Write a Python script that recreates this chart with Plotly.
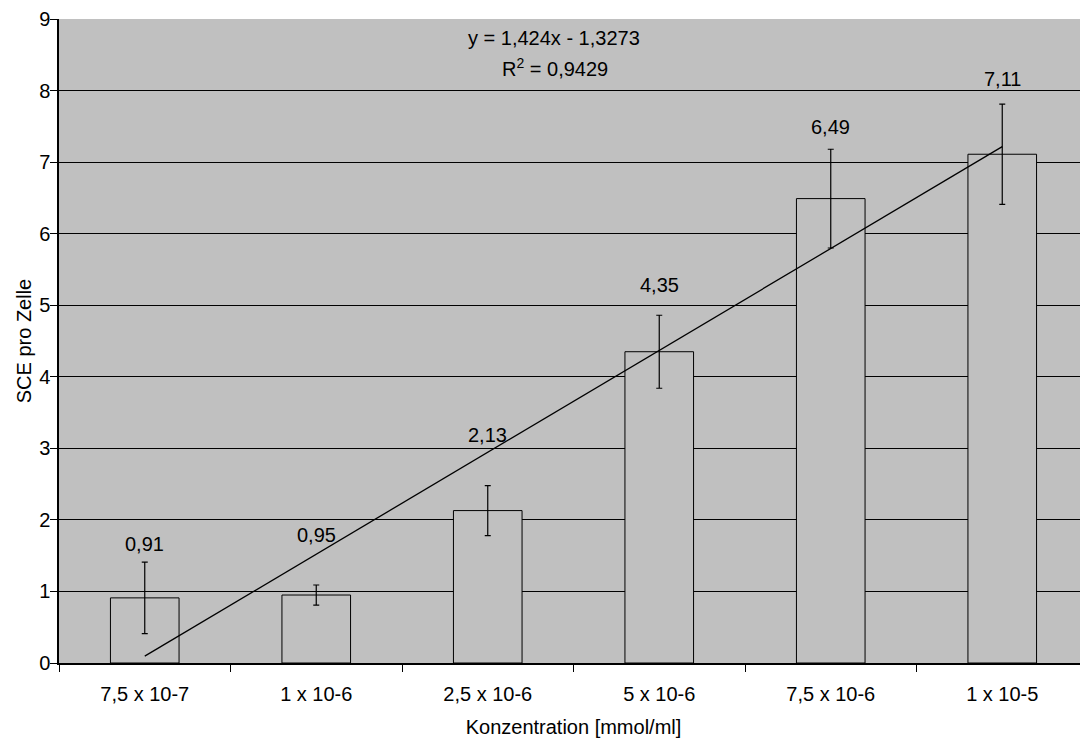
import plotly.graph_objects as go

categories = ["7,5 x 10-7", "1 x 10-6", "2,5 x 10-6", "5 x 10-6", "7,5 x 10-6", "1 x 10-5"]
values = [0.91, 0.95, 2.13, 4.35, 6.49, 7.11]
errors = [0.50, 0.14, 0.35, 0.51, 0.69, 0.70]
value_labels = ["0,91", "0,95", "2,13", "4,35", "6,49", "7,11"]
label_y = [1.67, 1.79, 3.19, 5.28, 7.49, 8.16]
y_ticks = [0, 1, 2, 3, 4, 5, 6, 7, 8, 9]
slope = 1.424
intercept = -1.3273
r_squared = "0,9429"

FONT = "Liberation Sans, Arial, sans-serif"
GRAY = "#C0C0C0"

trend_y = [slope * (i + 1) + intercept for i in range(len(categories))]

fig = go.Figure()
fig.add_trace(go.Bar(
    x=categories, y=values, width=0.4,
    marker=dict(color=GRAY, line=dict(color="black", width=1)),
    error_y=dict(type="data", array=errors, visible=True, color="black", thickness=1.2, width=3),
    showlegend=False, hoverinfo="skip",
))
fig.add_trace(go.Scatter(
    x=categories, y=trend_y, mode="lines",
    line=dict(color="black", width=1.3), showlegend=False, hoverinfo="skip",
))

for c, t, ly in zip(categories, value_labels, label_y):
    fig.add_annotation(x=c, y=ly, text=t, showarrow=False,
                       font=dict(family=FONT, size=20, color="black"),
                       xanchor="center", yanchor="middle")

fig.add_annotation(xref="paper", yref="paper", x=(553.7 - 59) / 1029, y=1 - (38.5 - 19) / 644,
                   text="y = 1,424x - 1,3273", showarrow=False,
                   font=dict(family=FONT, size=20, color="black"), xanchor="center", yanchor="middle")
fig.add_annotation(xref="paper", yref="paper", x=(555 - 59) / 1029, y=1 - (67 - 19) / 644,
                   text="R<sup>2</sup> = " + r_squared, showarrow=False,
                   font=dict(family=FONT, size=20, color="black"), xanchor="center", yanchor="middle")

# the page body adds an 8px offset; the figure is sized so the plot lands where the reference has it
fig.update_layout(
    width=1080, height=730,
    margin=dict(l=51, r=0, t=11, b=75),
    paper_bgcolor="white", plot_bgcolor=GRAY,
    font=dict(family=FONT, size=20, color="black"),
    xaxis=dict(
        type="category", tickson="boundaries", ticks="outside", ticklen=7, tickcolor="black",
        showline=True, linecolor="black", linewidth=1.5, showgrid=False, automargin=False,
        title=dict(text="Konzentration [mmol/ml]", font=dict(family=FONT, size=20), standoff=18),
        tickfont=dict(family=FONT, size=20), range=[-0.5, 5.5], ticklabelstandoff=12,
    ),
    yaxis=dict(
        range=[0, 9], tickvals=y_ticks, ticks="outside", ticklen=7, tickcolor="black",
        showline=True, linecolor="black", linewidth=1.5, automargin=False,
        showgrid=True, gridcolor="black", gridwidth=1, zeroline=False,
        title=dict(text="SCE pro Zelle", font=dict(family=FONT, size=20), standoff=2),
        tickfont=dict(family=FONT, size=20), ticklabelstandoff=-4,
    ),
)

fig.write_html("out.html")
